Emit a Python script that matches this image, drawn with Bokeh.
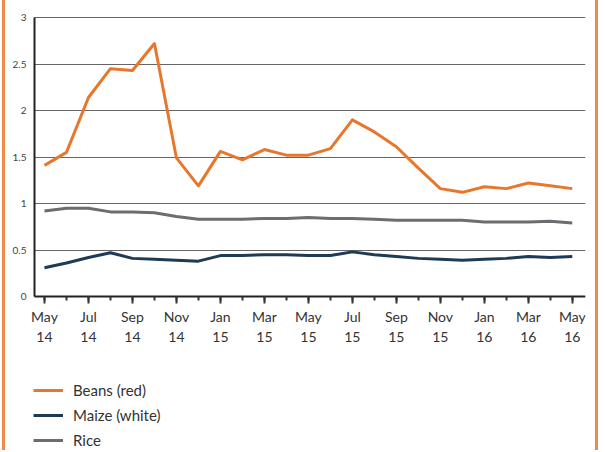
from bokeh.plotting import figure
from bokeh.models import FixedTicker, Legend, LegendItem, Range1d
from bokeh.embed import file_html
from bokeh.resources import INLINE

months = ["May\n14", "Jun\n14", "Jul\n14", "Aug\n14", "Sep\n14", "Oct\n14", "Nov\n14", "Dec\n14",
          "Jan\n15", "Feb\n15", "Mar\n15", "Apr\n15", "May\n15", "Jun\n15", "Jul\n15", "Aug\n15",
          "Sep\n15", "Oct\n15", "Nov\n15", "Dec\n15", "Jan\n16", "Feb\n16", "Mar\n16", "Apr\n16", "May\n16"]
beans = [1.41, 1.55, 2.14, 2.45, 2.43, 2.72, 1.49, 1.19, 1.56, 1.47, 1.58, 1.52, 1.52,
         1.59, 1.90, 1.77, 1.61, 1.38, 1.16, 1.12, 1.18, 1.16, 1.22, 1.19, 1.16]
maize = [0.31, 0.36, 0.42, 0.47, 0.41, 0.40, 0.39, 0.38, 0.44, 0.44, 0.45, 0.45, 0.44,
         0.44, 0.48, 0.45, 0.43, 0.41, 0.40, 0.39, 0.40, 0.41, 0.43, 0.42, 0.43]
rice = [0.92, 0.95, 0.95, 0.91, 0.91, 0.90, 0.86, 0.83, 0.83, 0.83, 0.84, 0.84, 0.85,
        0.84, 0.84, 0.83, 0.82, 0.82, 0.82, 0.82, 0.80, 0.80, 0.80, 0.81, 0.79]
y_ticks = [0, 0.5, 1, 1.5, 2, 2.5, 3]

x = list(range(len(months)))
FONT = "Lato"
X_AXIS_POS = -0.4545   # where the y axis sits on the x scale
X_END = 24.6

# frame spans the chart plus the label/legend areas; axes stay fixed on the data
p = figure(width=596, height=450,
           output_backend="svg", toolbar_location=None,
           x_range=Range1d(-1.636, X_END), y_range=Range1d(-1.656, 3.097),
           min_border_top=8, min_border_right=16, min_border_left=3, min_border_bottom=0)
p.outline_line_color = None
p.background_fill_color = "white"
p.border_fill_color = "white"
p.styles = {"border-left": "3px solid #ee8a4a", "border-right": "3px solid #ee8a4a",
            "margin-left": "2px"}

# grid
p.xgrid.grid_line_color = None
p.ygrid.grid_line_color = "#666666"
p.ygrid.grid_line_width = 1
p.ygrid.ticker = FixedTicker(ticks=y_ticks)
if "cross_bounds" in p.ygrid[0].properties():
    p.ygrid.cross_bounds = (X_AXIS_POS, X_END)

# axes
p.yaxis.fixed_location = X_AXIS_POS
p.yaxis.ticker = FixedTicker(ticks=y_ticks)
p.yaxis.bounds = (0, 3)
p.yaxis.major_label_overrides = {0: "0", 0.5: "0.5", 1: "1", 1.5: "1.5", 2: "2", 2.5: "2.5", 3: "3"}
p.yaxis.major_tick_out = 0
p.yaxis.major_tick_in = 0
p.yaxis.minor_tick_out = 0
p.yaxis.axis_line_color = "#222222"
p.yaxis.axis_line_width = 2
p.yaxis.major_label_text_font = FONT
p.yaxis.major_label_text_font_size = "10px"
p.yaxis.major_label_text_color = "#444444"
p.yaxis.major_label_standoff = 8

p.xaxis.fixed_location = 0
p.xaxis.bounds = (X_AXIS_POS, X_END)
p.xaxis.ticker = FixedTicker(ticks=x[::2], minor_ticks=x)
p.xaxis.major_label_overrides = {i: months[i] for i in x[::2]}
p.xaxis.axis_line_color = "#222222"
p.xaxis.axis_line_width = 2
p.xaxis.major_tick_line_color = "#333333"
p.xaxis.major_tick_line_width = 2
p.xaxis.major_tick_out = 7
p.xaxis.major_tick_in = 0
p.xaxis.minor_tick_line_color = "#333333"
p.xaxis.minor_tick_line_width = 2
p.xaxis.minor_tick_out = 4
p.xaxis.minor_tick_in = 0
p.xaxis.major_label_text_font = FONT
p.xaxis.major_label_text_font_size = "14px"
p.xaxis.major_label_text_color = "#333333"
p.xaxis.major_label_standoff = 4

r_beans = p.line(x, beans, line_color="#e8772e", line_width=3, line_join="round")
r_maize = p.line(x, maize, line_color="#1f3a55", line_width=3, line_join="round")
r_rice = p.line(x, rice, line_color="#6b6d70", line_width=3, line_join="round")

legend = Legend(items=[LegendItem(label="Beans (red)", renderers=[r_beans]),
                       LegendItem(label="Maize (white)", renderers=[r_maize]),
                       LegendItem(label="Rice", renderers=[r_rice])],
                location=(25, 0), orientation="vertical",
                border_line_color=None, background_fill_alpha=0,
                glyph_width=30, glyph_height=20, label_height=20, spacing=5,
                label_standoff=10, margin=0, padding=0,
                label_text_font=FONT, label_text_font_size="15px", label_text_color="#333333")
p.add_layout(legend)

open("out.html", "w").write(file_html(p, INLINE))
